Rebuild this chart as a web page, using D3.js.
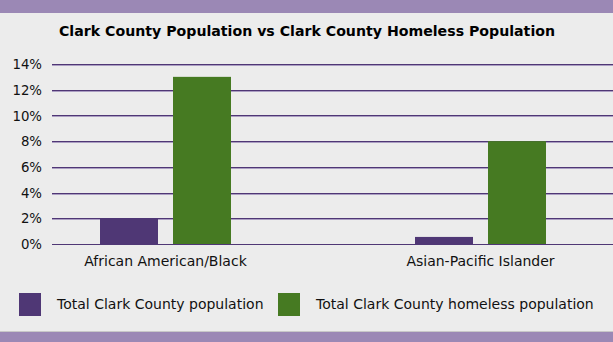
<!DOCTYPE html>
<html><head><meta charset="utf-8">
<script src="https://cdn.jsdelivr.net/npm/d3@7"></script>
<style>body{margin:0;background:#ececec;}svg{display:block;font-family:"DejaVu Sans",sans-serif;}</style>
</head><body>
<script>
const title = "Clark County Population vs Clark County Homeless Population";
const categories = ["African American/Black", "Asian-Pacific Islander"];
const seriesNames = ["Total Clark County population", "Total Clark County homeless population"];
const totalPop = [2, 0.55];
const homelessPop = [13, 8];
const yTicks = [0, 2, 4, 6, 8, 10, 12, 14];
const colors = ["#4f3775", "#467a22"];

const W = 613, H = 342;
const svg = d3.select("body").append("svg").attr("width", W).attr("height", H);
svg.append("rect").attr("width", W).attr("height", H).attr("fill", "#ececec");
svg.append("rect").attr("x",0).attr("y",0).attr("width",W).attr("height",13).attr("fill","#9b88b5");
svg.append("rect").attr("x",0).attr("y",331).attr("width",W).attr("height",1).attr("fill","#c8c8c8");
svg.append("rect").attr("x",0).attr("y",332).attr("width",W).attr("height",10).attr("fill","#9b88b5");

svg.append("text").attr("x", 307).attr("y", 36).attr("text-anchor","middle")
  .attr("font-size", 14.15).attr("font-weight","bold").attr("fill","#000").text(title);

const y = d3.scaleLinear().domain([0,14]).range([244, 64]);
const x0 = d3.scaleBand().domain(categories).range([8, 638]).padding(0);
const x1 = d3.scaleBand().domain(seriesNames).range([0,131]).paddingInner(15/73).paddingOuter(0);

const data = categories.map((c,i)=>({cat:c, vals:[totalPop[i], homelessPop[i]]}));

// gridlines
const grid = svg.append("g");
yTicks.forEach(t=>{
  const yy = Math.round(y(t));
  grid.append("line").attr("x1",52).attr("x2",W).attr("y1",yy+0.5).attr("y2",yy+0.5).attr("stroke","#4f3775").attr("stroke-width",1);
  if (t>0) grid.append("line").attr("x1",52).attr("x2",W).attr("y1",yy+1.5).attr("y2",yy+1.5).attr("stroke","#ab9ec2").attr("stroke-width",1);
});

const yAxis = d3.axisLeft(y).tickValues(yTicks).tickFormat(d=>d+"%").tickSize(0).tickPadding(0);
const ya = svg.append("g").attr("transform","translate(42,0)").call(yAxis);
ya.select(".domain").remove();
ya.selectAll("text").attr("font-size",13.3).attr("fill","#111").attr("font-family","DejaVu Sans, sans-serif").attr("dy","0.35em");

// bars
const groups = svg.append("g").selectAll("g").data(data).join("g")
  .attr("transform", d=>`translate(${x0(d.cat)+x0.bandwidth()/2-65.5},0)`);
groups.selectAll("rect").data(d=>d.vals.map((v,j)=>({v, s:seriesNames[j], j}))).join("rect")
  .attr("x", d=>x1(d.s)).attr("width", x1.bandwidth())
  .attr("y", d=>y(d.v)).attr("height", d=>y(0)-y(d.v))
  .attr("fill", d=>colors[d.j]);

// baseline
svg.append("line").attr("x1",52).attr("x2",W).attr("y1",244.5).attr("y2",244.5).attr("stroke","#4f3775");

// category labels
const xAxis = d3.axisBottom(x0).tickSize(0).tickPadding(0);
const xa = svg.append("g").attr("transform","translate(0,256)").call(xAxis);
xa.select(".domain").remove();
xa.selectAll("text").attr("font-size",14).attr("fill","#111").attr("font-family","DejaVu Sans, sans-serif").attr("dy","0.71em");

// legend
const legX = [19, 278];
seriesNames.forEach((s,i)=>{
  svg.append("rect").attr("x",legX[i]).attr("y",293).attr("width",22).attr("height",23).attr("fill",colors[i]);
  svg.append("text").attr("x",legX[i]+38).attr("y",304).attr("dy","0.35em").attr("font-size",14).attr("fill","#111").text(s);
});
</script>
</body></html>
